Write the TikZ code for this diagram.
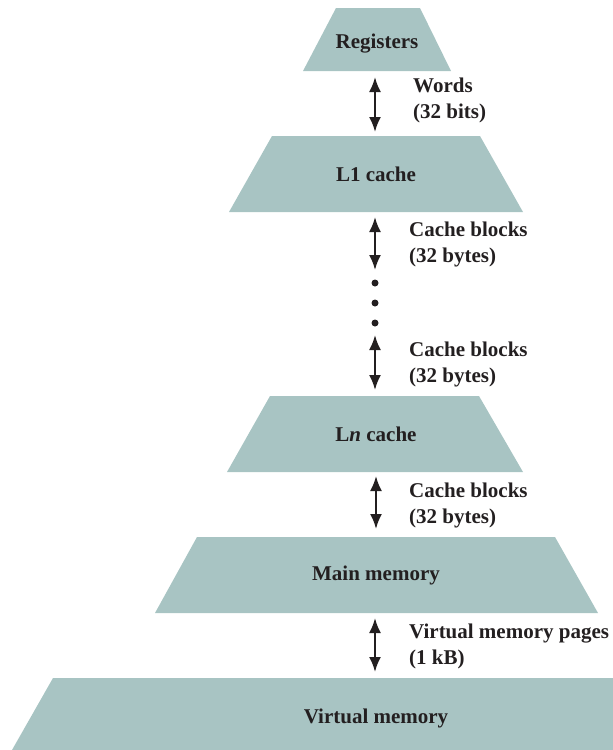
\documentclass[tikz,border=0pt]{standalone}
\usepackage{fontspec}
\setmainfont{Liberation Serif}
\usetikzlibrary{arrows.meta}
\definecolor{tier}{RGB}{168,196,195}
\definecolor{ink}{RGB}{35,31,32}
\begin{document}
\begin{tikzpicture}[x=1pt,y=-1pt,
  tierfill/.style={fill=tier,draw=none},
  tiertext/.style={anchor=base,inner sep=0pt,text=ink,font=\fontsize{21}{26}\selectfont\bfseries},
  xfer/.style={anchor=north west,inner sep=0pt,align=left,text=ink,font=\fontsize{21}{26}\selectfont\bfseries},
  dblarrow/.style={draw=ink,line width=2.2pt,{Latex[length=15pt,width=12pt]}-{Latex[length=15pt,width=12pt]}},
  dot/.style={fill=ink,draw=none}]
\useasboundingbox (0,0) rectangle (613,750);
\clip (0,0) rectangle (613,750);

% storage tiers, top to bottom
\fill[tierfill] (336,8) -- (420,8) -- (451,71) -- (303,71) -- cycle;
\fill[tierfill] (272,136) -- (480,136) -- (523,212) -- (229,212) -- cycle;
\fill[tierfill] (270,396) -- (479,396) -- (523,472) -- (227,472) -- cycle;
\fill[tierfill] (197,537) -- (555,537) -- (598,613) -- (155,613) -- cycle;
\fill[tierfill] (53,678) -- (700,678) -- (741,750) -- (12,750) -- cycle;

% tier labels
\node[tiertext] (reg) at (377,48) {Registers};
\node[tiertext] (lone) at (376,181) {L1 cache};
\node[tiertext] (ln) at (376,441) {L\textit{n} cache};
\node[tiertext] (main) at (376,580) {Main memory};
\node[tiertext] (virt) at (376,723) {Virtual memory};

% arrow end points at the tier edges
\coordinate (reg-b) at (375,71);
\coordinate (lone-t) at (375,136);
\coordinate (lone-b) at (375,212);
\coordinate (gap-a) at (375,272);
\coordinate (gap-b) at (375,333);
\coordinate (ln-t) at (375,396);
\coordinate (ln-b) at (376,472);
\coordinate (main-t) at (376,537);
\coordinate (main-b) at (375,613);
\coordinate (virt-t) at (375,678);

% transfers between tiers
\draw[dblarrow,shorten <=6pt,shorten >=4pt] (reg-b) -- (lone-t);
\draw[dblarrow,shorten <=5pt,shorten >=2pt] (lone-b) -- (gap-a);
\draw[dblarrow,shorten <=2pt,shorten >=6pt] (gap-b) -- (ln-t);
\draw[dblarrow,shorten <=4pt,shorten >=8pt] (ln-b) -- (main-t);
\draw[dblarrow,shorten <=5pt,shorten >=6pt] (main-b) -- (virt-t);

% intermediate cache levels
\fill[dot] (375,283) circle (3.5);
\fill[dot] (375,303) circle (3.5);
\fill[dot] (375,323) circle (3.5);

% transfer unit labels
\node[xfer] (w) at (413,78) {Words\\(32 bits)};
\node[xfer] (cb1) at (409,222) {Cache blocks\\(32 bytes)};
\node[xfer] (cb2) at (409,342) {Cache blocks\\(32 bytes)};
\node[xfer] (cb3) at (409,483) {Cache blocks\\(32 bytes)};
\node[xfer] (vp) at (409,624) {Virtual memory pages\\(1 kB)};
\end{tikzpicture}
\end{document}
